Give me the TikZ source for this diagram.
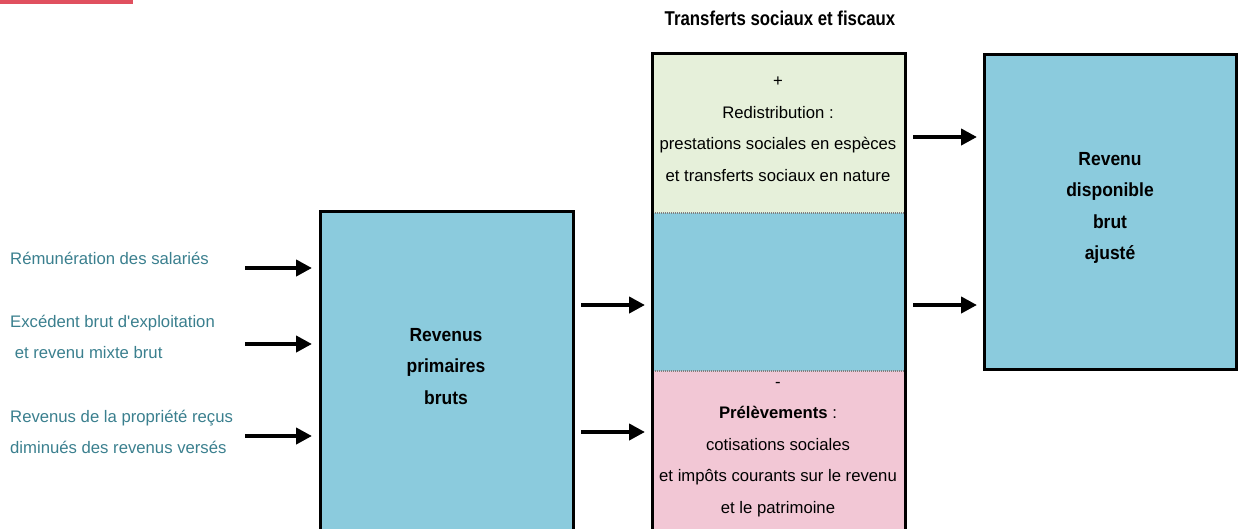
\documentclass[tikz,border=0pt]{standalone}
\usepackage{fontspec}
\setmainfont{Liberation Sans}
\newfontfamily\labfont[Ligatures=ResetAll]{Liberation Sans}
\newfontfamily\boldnarrow[FakeStretch=0.92]{Liberation Sans Bold}
\newfontfamily\titlefont[FakeStretch=0.84]{Liberation Sans Bold}
\usetikzlibrary{arrows.meta}
\definecolor{redbar}{HTML}{E0505F}
\definecolor{boxblue}{HTML}{8BCBDD}
\definecolor{boxgreen}{HTML}{E6F0DA}
\definecolor{boxpink}{HTML}{F2C7D5}
\definecolor{labteal}{HTML}{3A7F8E}
\begin{document}
\begin{tikzpicture}[x=1pt,y=-1pt,
  reg/.style={font=\fontsize{16.7}{31.5}\selectfont, align=center, text=black},
  lab/.style={font=\labfont\fontsize{16.7}{31}\selectfont, align=left, text=labteal, anchor=west, inner sep=0pt},
  bold/.style={font=\boldnarrow\fontsize{19}{31.5}\selectfont, align=center},
  boxline/.style={draw=black, line width=3pt},
  sep/.style={draw=gray, line width=2pt, dash pattern=on 1pt off 1pt},
  flow/.style={line width=4.5pt, -{Triangle[length=16pt,width=16pt]}, shorten >=0pt},
  area/.style={inner sep=0pt, outer sep=0pt, minimum width=253pt}
]
\clip (0,0) rectangle (1238,528);
\useasboundingbox (0,0) rectangle (1238,528);
\fill[redbar] (0,0) rectangle (133,4);

\node[font=\titlefont\fontsize{20}{24}\selectfont] (title) at (780,18) {Transferts sociaux et fiscaux};

% left labels
\node[lab] (l1) at (10,258) {Rémunération des salariés};
\node[lab, align=left] (l2) at (10,337) {Excédent brut d'exploitation\\\ et revenu mixte brut};
\node[lab] (l3) at (10,432) {Revenus de la propriété reçus\\diminués des revenus versés};

% box 1
\node[boxline, fill=boxblue, area, minimum height=330pt, anchor=north west] (b1) at (320.5,211.5) {};
\node[bold] (t1) at (446,366.5) {Revenus\\primaires\\bruts};

% middle column
\node[fill=boxgreen, area, minimum height=159pt, anchor=north west] (g) at (652.5,53.5) {};
\node[fill=boxblue, area, minimum height=158pt, anchor=north west] (m) at (g.south west) {};
\node[fill=boxpink, area, minimum height=170pt, anchor=north west] (p) at (m.south west) {};
\draw[sep] (g.south west) -- (g.south east);
\draw[sep] (m.south west) -- (m.south east);
\draw[boxline] (p.south west) -- (g.north west) -- (g.north east) -- (p.south east);
\node[reg] (tg) at (778,129.5) {+\\Redistribution :\\prestations sociales en espèces\\et transferts sociaux en nature};
\node[reg] (tp) at (778,449.5) {-\\\textbf{Prélèvements} :\\cotisations sociales\\et impôts courants sur le revenu\\et le patrimoine};

% box 3
\node[boxline, fill=boxblue, minimum width=252pt, minimum height=315pt, anchor=north west, inner sep=0pt, outer sep=0pt] (b3) at (984.5,54.5) {};
\node[bold] (t3) at (1110,208) {Revenu\\disponible\\brut\\ajusté};

% arrows
\coordinate (a1s) at (245,268); \coordinate (a1e) at (312,268);
\coordinate (a2s) at (245,344); \coordinate (a2e) at (312,344);
\coordinate (a3s) at (245,436); \coordinate (a3e) at (312,436);
\coordinate (a4s) at (581,305); \coordinate (a4e) at (645,305);
\coordinate (a5s) at (581,432); \coordinate (a5e) at (645,432);
\coordinate (a6s) at (913,137); \coordinate (a6e) at (977,137);
\coordinate (a7s) at (913,305); \coordinate (a7e) at (977,305);
\foreach \i in {1,...,7} \draw[flow] (a\i s) -- (a\i e);
\end{tikzpicture}
\end{document}
